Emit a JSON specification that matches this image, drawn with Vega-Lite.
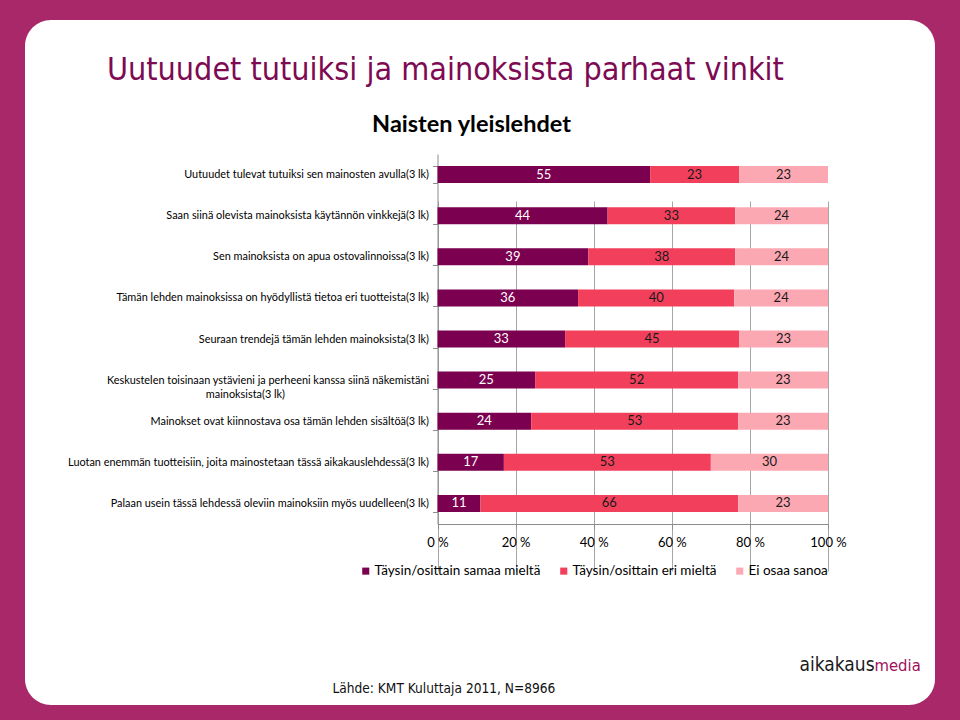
{
  "$schema": "https://vega.github.io/schema/vega-lite/v6.json",
  "width": 910,
  "height": 685,
  "autosize": {"type": "none"},
  "padding": {"left": 25, "top": 20, "right": 25, "bottom": 15},
  "background": "#a8286a",
  "title": {
    "text": "Uutuudet tutuiksi ja mainoksista parhaat vinkit",
    "anchor": "start",
    "frame": "group",
    "font": "DejaVu Sans Condensed",
    "fontSize": 32,
    "fontWeight": "normal",
    "color": "#7d0a52",
    "baseline": "alphabetic",
    "offset": 0,
    "dx": 82,
    "dy": 98
  },
  "config": {
    "view": {"fill": "white", "stroke": null, "cornerRadius": 26},
    "font": "Lato"
  },
  "data": {
    "values": [
      {"q": "Uutuudet tulevat tutuiksi sen mainosten avulla(3 lk)", "cat": "Täysin/osittain samaa mieltä", "v": 55},
      {"q": "Uutuudet tulevat tutuiksi sen mainosten avulla(3 lk)", "cat": "Täysin/osittain eri mieltä", "v": 23},
      {"q": "Uutuudet tulevat tutuiksi sen mainosten avulla(3 lk)", "cat": "Ei osaa sanoa", "v": 23},
      {"q": "Saan siinä olevista mainoksista käytännön vinkkejä(3 lk)", "cat": "Täysin/osittain samaa mieltä", "v": 44},
      {"q": "Saan siinä olevista mainoksista käytännön vinkkejä(3 lk)", "cat": "Täysin/osittain eri mieltä", "v": 33},
      {"q": "Saan siinä olevista mainoksista käytännön vinkkejä(3 lk)", "cat": "Ei osaa sanoa", "v": 24},
      {"q": "Sen mainoksista on apua ostovalinnoissa(3 lk)", "cat": "Täysin/osittain samaa mieltä", "v": 39},
      {"q": "Sen mainoksista on apua ostovalinnoissa(3 lk)", "cat": "Täysin/osittain eri mieltä", "v": 38},
      {"q": "Sen mainoksista on apua ostovalinnoissa(3 lk)", "cat": "Ei osaa sanoa", "v": 24},
      {"q": "Tämän lehden mainoksissa on hyödyllistä tietoa eri tuotteista(3 lk)", "cat": "Täysin/osittain samaa mieltä", "v": 36},
      {"q": "Tämän lehden mainoksissa on hyödyllistä tietoa eri tuotteista(3 lk)", "cat": "Täysin/osittain eri mieltä", "v": 40},
      {"q": "Tämän lehden mainoksissa on hyödyllistä tietoa eri tuotteista(3 lk)", "cat": "Ei osaa sanoa", "v": 24},
      {"q": "Seuraan trendejä tämän lehden mainoksista(3 lk)", "cat": "Täysin/osittain samaa mieltä", "v": 33},
      {"q": "Seuraan trendejä tämän lehden mainoksista(3 lk)", "cat": "Täysin/osittain eri mieltä", "v": 45},
      {"q": "Seuraan trendejä tämän lehden mainoksista(3 lk)", "cat": "Ei osaa sanoa", "v": 23},
      {"q": "Keskustelen toisinaan ystävieni ja perheeni kanssa siinä näkemistäni mainoksista(3 lk)", "cat": "Täysin/osittain samaa mieltä", "v": 25},
      {"q": "Keskustelen toisinaan ystävieni ja perheeni kanssa siinä näkemistäni mainoksista(3 lk)", "cat": "Täysin/osittain eri mieltä", "v": 52},
      {"q": "Keskustelen toisinaan ystävieni ja perheeni kanssa siinä näkemistäni mainoksista(3 lk)", "cat": "Ei osaa sanoa", "v": 23},
      {"q": "Mainokset ovat kiinnostava osa tämän lehden sisältöä(3 lk)", "cat": "Täysin/osittain samaa mieltä", "v": 24},
      {"q": "Mainokset ovat kiinnostava osa tämän lehden sisältöä(3 lk)", "cat": "Täysin/osittain eri mieltä", "v": 53},
      {"q": "Mainokset ovat kiinnostava osa tämän lehden sisältöä(3 lk)", "cat": "Ei osaa sanoa", "v": 23},
      {"q": "Luotan enemmän tuotteisiin, joita mainostetaan tässä aikakauslehdessä(3 lk)", "cat": "Täysin/osittain samaa mieltä", "v": 17},
      {"q": "Luotan enemmän tuotteisiin, joita mainostetaan tässä aikakauslehdessä(3 lk)", "cat": "Täysin/osittain eri mieltä", "v": 53},
      {"q": "Luotan enemmän tuotteisiin, joita mainostetaan tässä aikakauslehdessä(3 lk)", "cat": "Ei osaa sanoa", "v": 30},
      {"q": "Palaan usein tässä lehdessä oleviin mainoksiin myös uudelleen(3 lk)", "cat": "Täysin/osittain samaa mieltä", "v": 11},
      {"q": "Palaan usein tässä lehdessä oleviin mainoksiin myös uudelleen(3 lk)", "cat": "Täysin/osittain eri mieltä", "v": 66},
      {"q": "Palaan usein tässä lehdessä oleviin mainoksiin myös uudelleen(3 lk)", "cat": "Ei osaa sanoa", "v": 23}
    ]
  },
  "transform": [
    {"stack": "v", "groupby": ["q"], "sort": [{"field": "cat", "order": "descending"}], "offset": "normalize", "as": ["x0", "x1"]},
    {"calculate": "(datum.x0 + datum.x1) / 2", "as": "xm"}
  ],
  "layer": [
    {
      "mark": {"type": "bar"},
      "encoding": {
        "x": {
          "field": "x0",
          "type": "quantitative",
          "scale": {"domain": [0, 1], "range": [412.5, 803], "nice": false, "zero": true},
          "axis": {
            "orient": "bottom",
            "offset": -181,
            "values": [0, 0.2, 0.4, 0.6, 0.8, 1],
            "labelExpr": "round(datum.value * 100) + ' %'",
            "labelFlush": false,
            "labelOverlap": false,
            "grid": true,
            "gridColor": "#a6a6a6",
            "gridWidth": 1,
            "domainColor": "#8c8c8c",
            "tickColor": "#8c8c8c",
            "tickSize": 5,
            "labelFont": "Lato",
            "labelFontSize": 13,
            "labelColor": "#000000",
            "labelPadding": 7,
            "title": "Naisten yleislehdet",
            "titleX": 446,
            "titleY": -393,
            "titleAlign": "center",
            "titleBaseline": "alphabetic",
            "titleFont": "Lato",
            "titleFontSize": 23.5,
            "titleFontWeight": "bold",
            "titleColor": "#000000"
          }
        },
        "x2": {"field": "x1"},
        "y": {
          "field": "q",
          "type": "nominal",
          "sort": [
            "Uutuudet tulevat tutuiksi sen mainosten avulla(3 lk)",
            "Saan siinä olevista mainoksista käytännön vinkkejä(3 lk)",
            "Sen mainoksista on apua ostovalinnoissa(3 lk)",
            "Tämän lehden mainoksissa on hyödyllistä tietoa eri tuotteista(3 lk)",
            "Seuraan trendejä tämän lehden mainoksista(3 lk)",
            "Keskustelen toisinaan ystävieni ja perheeni kanssa siinä näkemistäni mainoksista(3 lk)",
            "Mainokset ovat kiinnostava osa tämän lehden sisältöä(3 lk)",
            "Luotan enemmän tuotteisiin, joita mainostetaan tässä aikakauslehdessä(3 lk)",
            "Palaan usein tässä lehdessä oleviin mainoksiin myös uudelleen(3 lk)"
          ],
          "scale": {"range": [134, 504], "paddingInner": 0.586, "paddingOuter": 0.293},
          "axis": {
            "orient": "left",
            "offset": -412.5,
            "tickBand": "extent",
            "tickSize": 5,
            "tickColor": "#8c8c8c",
            "domainColor": "#8c8c8c",
            "grid": false,
            "labelFont": "Lato",
            "labelFontSize": 10.9,
            "labelColor": "#000000",
            "labelLimit": 600,
            "labelPadding": 4,
            "labelLineHeight": 14,
            "labelExpr": "indexof(datum.label, 'Keskustelen') === 0 ? ['Keskustelen toisinaan ystävieni ja perheeni kanssa siinä näkemistäni', 'mainoksista(3 lk)' + pad('', 18, '\u2800')] : datum.label",
            "title": "Lähde: KMT Kuluttaja 2011, N=8966",
            "titleAngle": 0,
            "titleX": -105.5,
            "titleY": 672,
            "titleAlign": "left",
            "titleBaseline": "alphabetic",
            "titleFont": "DejaVu Sans Condensed",
            "titleFontSize": 13.6,
            "titleFontWeight": "normal",
            "titleColor": "#111111"
          }
        },
        "color": {
          "field": "cat",
          "type": "nominal",
          "scale": {
            "domain": ["Täysin/osittain samaa mieltä", "Täysin/osittain eri mieltä", "Ei osaa sanoa"],
            "range": ["#7b0150", "#f2405c", "#fca8b3"]
          },
          "legend": {
            "orient": "none",
            "legendX": 334,
            "legendY": 544,
            "direction": "horizontal",
            "title": null,
            "symbolType": "square",
            "symbolSize": 50,
            "symbolStrokeWidth": 0,
            "labelFont": "Lato",
            "labelFontSize": 13.5,
            "labelColor": "#000000",
            "labelOffset": 2,
            "labelLimit": 300,
            "columnPadding": 16
          }
        }
      }
    },
    {
      "mark": {"type": "text", "font": "Lato", "fontSize": 13, "baseline": "middle", "align": "center"},
      "encoding": {
        "x": {
          "field": "xm",
          "type": "quantitative",
          "axis": {
            "orient": "top",
            "labels": false,
            "ticks": false,
            "domain": false,
            "grid": false,
            "title": "aikakaus",
            "titleX": 774,
            "titleY": 650,
            "titleAlign": "left",
            "titleBaseline": "alphabetic",
            "titleFont": "DejaVu Sans Condensed",
            "titleFontSize": 19,
            "titleFontWeight": "normal",
            "titleColor": "#1a1a1a"
          }
        },
        "y": {
          "field": "q",
          "type": "nominal",
          "sort": [
            "Uutuudet tulevat tutuiksi sen mainosten avulla(3 lk)",
            "Saan siinä olevista mainoksista käytännön vinkkejä(3 lk)",
            "Sen mainoksista on apua ostovalinnoissa(3 lk)",
            "Tämän lehden mainoksissa on hyödyllistä tietoa eri tuotteista(3 lk)",
            "Seuraan trendejä tämän lehden mainoksista(3 lk)",
            "Keskustelen toisinaan ystävieni ja perheeni kanssa siinä näkemistäni mainoksista(3 lk)",
            "Mainokset ovat kiinnostava osa tämän lehden sisältöä(3 lk)",
            "Luotan enemmän tuotteisiin, joita mainostetaan tässä aikakauslehdessä(3 lk)",
            "Palaan usein tässä lehdessä oleviin mainoksiin myös uudelleen(3 lk)"
          ],
          "axis": {
            "orient": "right",
            "labels": false,
            "ticks": false,
            "domain": false,
            "grid": false,
            "title": "media",
            "titleAngle": 0,
            "titleX": -61,
            "titleY": 650,
            "titleAlign": "left",
            "titleBaseline": "alphabetic",
            "titleFont": "DejaVu Sans Condensed",
            "titleFontSize": 16.5,
            "titleFontWeight": "normal",
            "titleColor": "#a0105a"
          }
        },
        "text": {"field": "v", "type": "quantitative"},
        "color": {
          "condition": {"test": "datum.cat === 'Täysin/osittain samaa mieltä'", "value": "#ffffff"},
          "value": "#1a1a1a"
        }
      }
    }
  ],
  "resolve": {"axis": {"x": "independent", "y": "independent"}}
}
